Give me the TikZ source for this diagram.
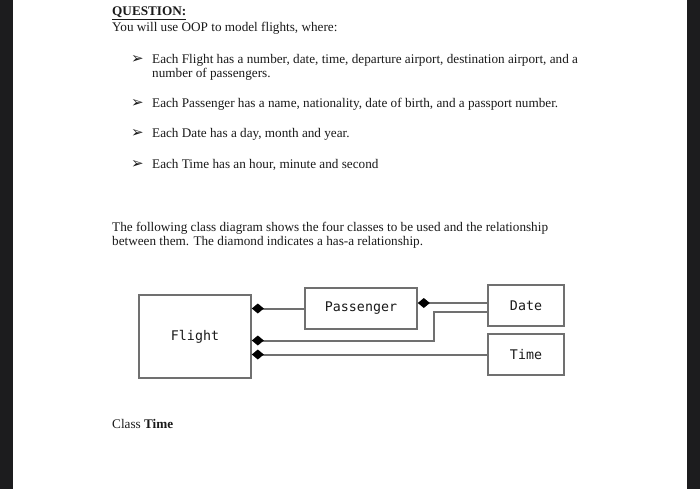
\documentclass[tikz,border=0pt]{standalone}
\usepackage{fontspec}
\setmainfont{Liberation Serif}
\newfontfamily\monofam{DejaVu Sans Mono}
\newfontfamily\symfam{DejaVu Sans}
\usetikzlibrary{arrows.meta}
\definecolor{txt}{HTML}{1A1A1A}
\definecolor{edge}{HTML}{1C1C1E}
\definecolor{ln}{HTML}{707070}
\begin{document}
\begin{tikzpicture}[x=1pt,y=-1pt,
  txtnode/.style={anchor=base west,inner sep=0pt,text=txt,font=\fontsize{13.2}{15}\selectfont},
  bul/.style={anchor=base west,inner sep=0pt,text=txt,font=\symfam\fontsize{15}{16}\selectfont},
  cls/.style={draw=ln,line width=1.6pt,fill=white,text=txt,font=\monofam\fontsize{13.3}{15}\selectfont,inner sep=0pt},
  conn/.style={draw=ln,line width=2pt},
  dia/.style={{Diamond[black,length=12pt,width=10pt]}-}
]
\useasboundingbox (0,0) rectangle (700,489);
\fill[white] (0,0) rectangle (700,489);
\fill[edge] (0,0) rectangle (13,489);
\fill[edge] (687,0) rectangle (700,489);

\node[txtnode] (q) at (112,16) {\underline{\textbf{QUESTION:}}};
\node[txtnode] (intro) at (112,32) {You will use OOP to model flights, where:};

\node[bul] (b1) at (131,64) {➢};
\node[txtnode] (t1) at (152,64) {Each Flight has a number, date, time, departure airport, destination airport, and a};
\node[txtnode] (t1b) at (152,77.5) {number of passengers.};
\node[bul] (b2) at (131,108) {➢};
\node[txtnode] (t2) at (152,108) {Each Passenger has a name, nationality, date of birth, and a passport number.};
\node[bul] (b3) at (131,138) {➢};
\node[txtnode] (t3) at (152,138) {Each Date has a day, month and year.};
\node[bul] (b4) at (131,168) {➢};
\node[txtnode] (t4) at (152,168) {Each Time has an hour, minute and second};

\node[txtnode] (p1) at (112,231) {The following class diagram shows the four classes to be used and the relationship};
\node[txtnode] (p2) at (112,245) {between them. The diamond indicates a has-a relationship.};

\node[cls,minimum width=112pt,minimum height=83pt] (flight) at (195,336.5) {Flight};
\node[cls,minimum width=112pt,minimum height=41pt] (pass) at (361,308.5) {Passenger};
\node[cls,minimum width=76pt,minimum height=41pt] (date) at (526,305.5) {Date};
\node[cls,minimum width=76pt,minimum height=41pt] (time) at (526,354.5) {Time};

\coordinate (fd1) at ([yshift=-4pt]flight.east);
\coordinate (bend) at (434,0);
\coordinate (dlow) at ([yshift=-6.5pt]date.west);
\coordinate (dup) at ([yshift=2.5pt]date.west);

\draw[conn,dia] (flight.east |- pass.west) -- (pass.west);
\draw[conn,dia] (pass.east |- dup) -- (dup);
\draw[conn,dia] (fd1) -- (bend |- fd1) -- (bend |- dlow) -- (dlow);
\draw[conn,dia] (flight.east |- time.west) -- (time.west);

\node[txtnode] (ct) at (112,428) {Class \textbf{Time}};
\end{tikzpicture}
\end{document}
